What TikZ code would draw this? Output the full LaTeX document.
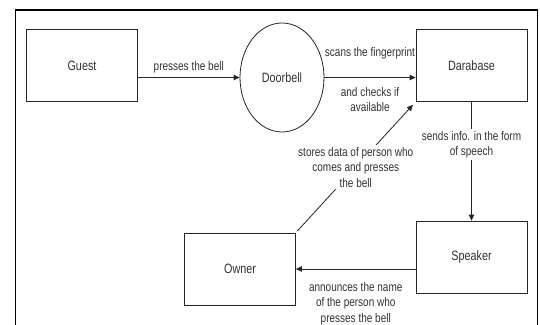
\documentclass[tikz,border=0pt]{standalone}
\usepackage{fontspec}
\setmainfont{Liberation Sans}[FakeStretch=0.8]
\usetikzlibrary{arrows.meta,shapes.geometric}

\begin{document}
\begin{tikzpicture}[x=1pt,y=-1pt,
    >={Triangle[length=6pt,width=5.5pt]},
    box/.style={draw=black!85,line width=0.8pt,minimum width=111pt,minimum height=72pt,
      font=\fontsize{13.5}{16}\selectfont,text=black!80},
    lbl/.style={font=\fontsize{12.5}{15.5}\selectfont,text=black!80,inner sep=1pt,align=center},
    flow/.style={draw=black!85,line width=0.8pt}]
    \useasboundingbox (0,0) rectangle (540,324);
    % outer frame, cut off at the bottom
    \draw[line width=1.8pt] (15.5,326) -- (15.5,9.7) -- (537.5,9.7) -- (537.5,326);

    \node[box] (GUEST) at (82,65.5) {Guest};
    \node[draw=black!85,line width=0.8pt,ellipse,minimum width=84pt,minimum height=109pt,inner sep=0pt,
      font=\fontsize{13.5}{16}\selectfont,text=black!80] (BELL) at (282,77.5) {Doorbell};
    \node[box] (DB) at (471.5,65.5) {Darabase};
    \node[box] (SPK) at (471.5,257) {Speaker};
    \node[box] (OWN) at (240,269) {Owner};

    \draw[flow,->] (GUEST.east |- BELL) -- (BELL.west) node[midway, above=3pt, lbl] {presses the bell};
    \draw[flow,->] (BELL.east) -- (BELL.east -| DB.west)
      node[midway, above=17pt, lbl] {scans the fingerprint}
      node[midway, below=8.5pt, lbl] {and checks if\\available};
    \draw[flow,->] (DB) -- (SPK) node[pos=0.36, lbl, fill=white, inner sep=2pt] {sends info. in the form\\of speech};
    \draw[flow,->] (SPK.west |- OWN) -- (OWN.east) node[midway, below=12pt, lbl] {announces the name\\of the person who\\presses the bell};
    \draw[flow,->,shorten <=2pt,shorten >=4pt] (OWN.north east) -- (DB.south west)
      node[midway, lbl, fill=white, inner sep=2pt] {stores data of person who\\comes and presses\\the bell};
\end{tikzpicture}
\end{document}
